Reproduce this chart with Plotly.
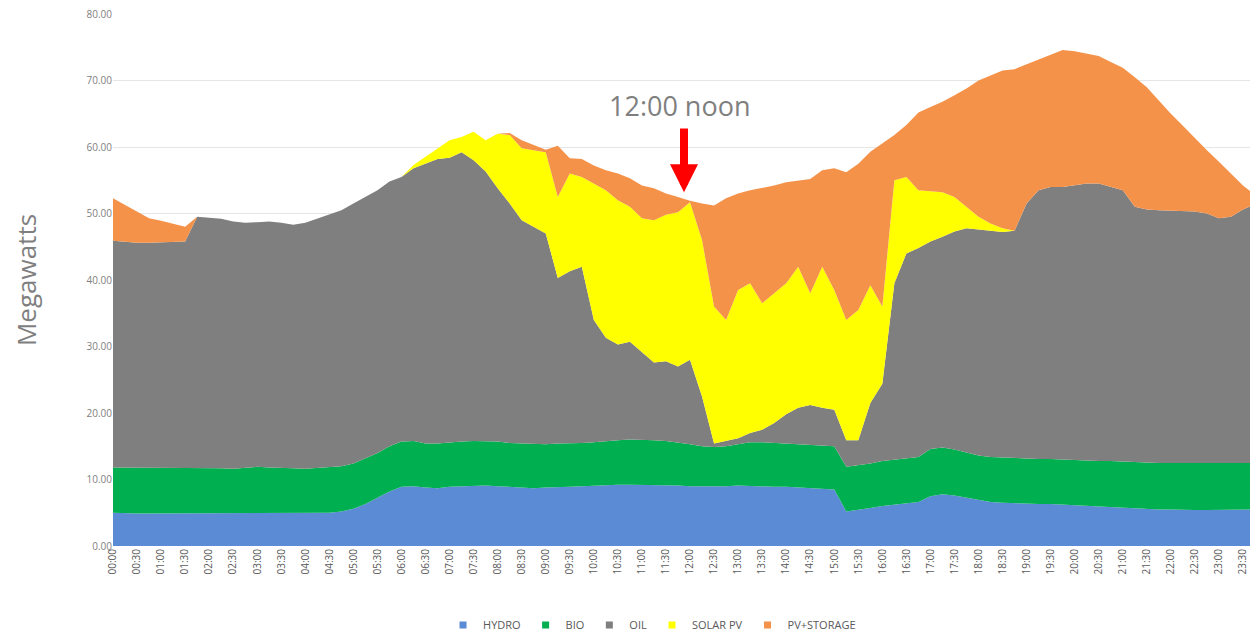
import plotly.graph_objects as go

# 15-minute intervals, labelled every 30 minutes
times = [f"{h:02d}:{m:02d}" for h in range(24) for m in (0, 15, 30, 45)]
tick_labels = [t for t in times if t.endswith("00") or t.endswith("30")]

hydro = [5.0, 4.9, 4.9, 4.9, 4.9, 4.9, 4.9, 4.9, 5.0, 5.0, 5.0, 4.9, 5.0, 5.0, 5.0, 5.0, 5.0, 5.0, 5.0, 5.2,
         5.6, 6.3, 7.2, 8.2, 8.9, 9.0, 8.8, 8.7, 8.9, 9.0, 9.1, 9.1, 9.0, 8.9, 8.7, 8.7, 8.8, 8.8, 8.9, 9.0,
         9.1, 9.1, 9.2, 9.2, 9.2, 9.1, 9.1, 9.1, 9.0, 9.0, 8.9, 9.0, 9.1, 9.0, 8.9, 8.9, 8.9, 8.8, 8.8, 8.7,
         8.5, 5.2, 5.4, 5.7, 6.0, 6.2, 6.4, 6.6, 7.5, 7.8, 7.6, 7.3, 6.9, 6.6, 6.5, 6.4, 6.4, 6.3, 6.3, 6.2,
         6.1, 6.0, 5.9, 5.8, 5.7, 5.6, 5.6, 5.5, 5.5, 5.4, 5.4, 5.4, 5.4, 5.4, 5.4, 5.5]

bio = [6.8, 6.9, 6.8, 6.8, 6.8, 6.8, 6.8, 6.9, 6.8, 6.7, 6.6, 6.9, 6.9, 6.8, 6.8, 6.7, 6.6, 6.7, 6.9, 6.8,
       6.8, 6.9, 6.8, 6.8, 6.8, 6.8, 6.6, 6.7, 6.7, 6.7, 6.7, 6.7, 6.7, 6.6, 6.7, 6.6, 6.5, 6.6, 6.5, 6.5,
       6.5, 6.7, 6.7, 6.8, 6.8, 6.8, 6.7, 6.5, 6.3, 6.0, 6.0, 6.0, 6.2, 6.6, 6.7, 6.6, 6.5, 6.6, 6.5, 6.5,
       6.5, 6.7, 6.7, 6.7, 6.8, 6.8, 6.8, 6.8, 7.1, 7.0, 6.9, 6.7, 6.7, 6.8, 6.8, 6.9, 6.8, 6.8, 6.8, 6.8,
       6.9, 6.9, 6.9, 7.0, 7.0, 7.0, 7.0, 7.0, 7.0, 7.1, 7.1, 7.1, 7.0, 7.0, 7.0, 7.0]

oil = [34.1, 33.9, 33.9, 33.9, 34.0, 34.0, 34.1, 37.7, 37.6, 37.5, 37.2, 36.8, 36.8, 37.0, 36.8, 36.6, 37.0, 37.5, 37.9, 38.5,
       39.1, 39.3, 39.5, 39.8, 39.8, 41.0, 42.1, 42.8, 42.8, 43.5, 42.2, 40.5, 38.1, 36.0, 33.6, 32.7, 31.7, 24.9, 25.9, 26.5,
       18.4, 15.5, 14.4, 14.7, 13.2, 11.7, 12.0, 11.4, 12.7, 7.5, 0.5, 0.8, 0.9, 1.4, 1.9, 3.0, 4.4, 5.4, 5.9, 5.6,
       5.5, 4.0, 3.8, 9.1, 11.6, 26.5, 30.8, 31.4, 31.2, 31.7, 32.8, 33.8, 34.0, 33.9, 33.9, 34.1, 38.3, 40.4, 40.9, 41.0,
       41.2, 41.6, 41.7, 41.2, 40.8, 38.4, 38.0, 38.0, 37.9, 37.9, 37.8, 37.5, 36.9, 37.1, 38.2, 38.9]

solar_pv = [0, 0, 0, 0, 0, 0, 0, 0, 0, 0, 0, 0, 0, 0, 0, 0, 0, 0, 0, 0,
            0, 0, 0, 0, 0, 0.5, 1.0, 1.6, 2.6, 2.3, 4.3, 4.7, 8.2, 10.3, 10.8, 11.5, 12.2, 12.2, 14.7, 13.5,
            20.5, 22.2, 21.7, 20.3, 20.1, 21.4, 22.0, 23.2, 23.7, 23.5, 20.6, 18.2, 22.3, 22.5, 19.0, 19.5, 19.7, 21.2, 16.8, 21.2,
            18.0, 18.1, 19.6, 17.7, 11.6, 15.5, 11.5, 8.7, 7.5, 6.7, 5.2, 3.2, 1.9, 1.2, 0.6, 0, 0, 0, 0, 0,
            0, 0, 0, 0, 0, 0, 0, 0, 0, 0, 0, 0, 0, 0, 0, 0]

pv_storage = [6.4, 5.6, 4.7, 3.7, 3.2, 2.8, 2.2, 0, 0, 0, 0, 0, 0, 0, 0, 0, 0, 0, 0, 0,
              0, 0, 0, 0, 0, 0, 0, 0, 0, 0, 0, 0, 0, 0.3, 1.2, 0.8, 0.4, 7.7, 2.3, 2.7,
              2.7, 3.0, 4.0, 4.3, 4.9, 4.8, 3.2, 2.3, 0.2, 5.5, 15.2, 18.3, 14.5, 14.0, 17.3, 16.2, 15.2, 13.0, 17.2, 14.5,
              18.3, 22.2, 22.0, 20.1, 24.5, 6.8, 7.8, 11.7, 12.7, 13.6, 15.3, 17.8, 20.5, 22.3, 23.7, 24.3, 20.9, 19.7, 19.8, 20.6,
              20.2, 19.6, 19.2, 18.8, 18.4, 19.5, 18.4, 16.5, 14.6, 12.8, 11.0, 9.5, 8.5, 6.5, 3.6, 1.4]

series = [
    ("HYDRO", hydro, "#5B8BD5"),
    ("BIO", bio, "#00B050"),
    ("OIL", oil, "#7F7F7F"),
    ("SOLAR PV", solar_pv, "#FFFF00"),
    ("PV+STORAGE", pv_storage, "#F5924A"),
]

fig = go.Figure()
for name, vals, color in series:
    fig.add_trace(go.Scatter(
        x=times, y=vals, name=name, mode="lines", stackgroup="one",
        line=dict(width=0, color=color), fillcolor=color, showlegend=False,
    ))
# small square legend keys, like the original
for name, vals, color in series:
    fig.add_trace(go.Scatter(
        x=[None], y=[None], name=name, mode="markers",
        marker=dict(symbol="square", size=7, color=color),
    ))

# noon marker
fig.add_annotation(x=47.1, y=66.2, xref="x", yref="y", text="12:00 noon",
                   showarrow=False, font=dict(size=27, color="#7F7F7F", family="Open Sans"))
fig.add_annotation(x=47.5, y=53.2, ax=47.5, ay=63.0, xref="x", yref="y", axref="x", ayref="y",
                   text="", showarrow=True, arrowhead=2, arrowsize=0.7, arrowwidth=8,
                   arrowcolor="#FF0000")

# page body adds an 8px offset, so the figure is drawn slightly smaller
fig.update_layout(
    width=1250, height=625,
    margin=dict(l=105, r=3, t=6, b=87, autoexpand=False),
    plot_bgcolor="white", paper_bgcolor="white",
    font=dict(family="Open Sans", color="#595959"),
    showlegend=True,
    legend=dict(orientation="h", x=0.472, xanchor="center", y=-0.1485, yanchor="middle",
                font=dict(size=11, color="#595959"), traceorder="normal",
                itemwidth=30, tracegroupgap=0),
    xaxis=dict(type="category", range=[0, 95], tickmode="array", tickvals=tick_labels,
               ticktext=tick_labels, tickangle=-90, tickfont=dict(size=10, color="#595959"),
               showgrid=False, showline=False, ticks="", automargin=False),
    yaxis=dict(range=[0, 80], dtick=10, tickformat=".2f", gridcolor="#E6E6E6",
               tickfont=dict(size=10, color="#7F7F7F"), zeroline=False, showline=False,
               automargin=False, ticklabeloverflow="allow",
               title=dict(text="Megawatts", font=dict(size=26, color="#7F7F7F"), standoff=42)),
)

fig.write_html("out.html")
